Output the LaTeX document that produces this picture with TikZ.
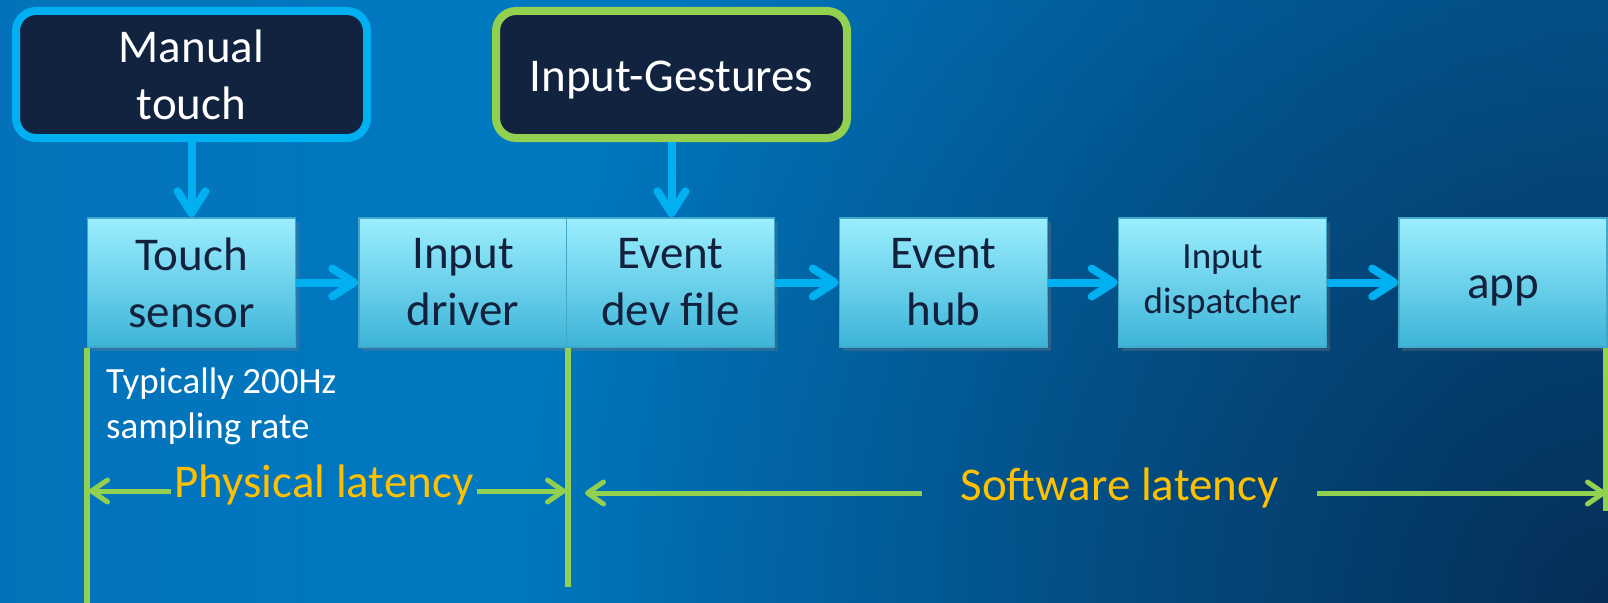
\documentclass[tikz,border=0pt]{standalone}
\usepackage{fontspec}
\setmainfont{Carlito}
\usepackage{xcolor}
\usetikzlibrary{arrows.meta,shadows,fadings}

\definecolor{bgleft}{HTML}{0A67AD}
\definecolor{bgmid}{HTML}{0079C1}
\definecolor{bgright}{HTML}{0460A2}
\definecolor{bgcorner}{HTML}{06284D}
\definecolor{skyarrow}{HTML}{00B0F0}
\definecolor{limeline}{HTML}{92D050}
\definecolor{navybox}{HTML}{12233F}
\definecolor{navytext}{HTML}{14213D}
\definecolor{latencyorange}{HTML}{FFC000}
\definecolor{blocktop}{HTML}{9BEEFE}
\definecolor{blockbottom}{HTML}{3DB4D8}
\definecolor{blockedge}{HTML}{42A8C8}

\pgfdeclarehorizontalshading{slidebg}{100bp}{color(0bp)=(bgleft); color(40bp)=(bgmid); color(100bp)=(bgright)}
\tikzfading[name=corner glow, inner color=transparent!0, outer color=transparent!100]

\newcommand{\bigtext}{\fontsize{47}{57}\selectfont}
\newcommand{\smalltext}{\fontsize{37}{45}\selectfont}

\begin{document}
\begin{tikzpicture}[x=1pt,y=-1pt,
  touchbox/.style={line width=8pt, fill=navybox, text=white, rounded corners=20pt,
    minimum width=351pt, minimum height=127pt, inner sep=0pt, align=center, font=\bigtext},
  block/.style={draw=blockedge, line width=1.5pt, top color=blocktop, bottom color=blockbottom,
    text=navytext, minimum width=208pt, minimum height=129pt, inner sep=0pt, align=center,
    font=\bigtext, drop shadow={shadow xshift=3pt, shadow yshift=-4pt, opacity=0.3}},
  flow/.style={draw=skyarrow, line width=8pt, -{Straight Barb[length=22pt,width=28pt,round]}},
  marker/.style={draw=limeline, line width=5.5pt},
  dimarrow/.style={draw=limeline, line width=5pt, -{Straight Barb[length=16pt,width=22pt,round]}},
  latency/.style={text=latencyorange, font=\bigtext, anchor=base}]

% background
\useasboundingbox (0,0) rectangle (1608,602);
\shade[shading=slidebg] (0,0) rectangle (1608,602);
\begin{scope}
\clip (0,0) rectangle (1608,602);
\fill[bgcorner, path fading=corner glow, fill opacity=0.9] (1608,602) circle (1100);
\end{scope}

% inputs
\node[touchbox, draw=skyarrow] (manual) at (191.5,74.5) {Manual\\touch};
\node[touchbox, draw=limeline, text height=33pt, text depth=0pt] (gestures) at (671.5,74.5) {Input-Gestures};

% pipeline
\node[block] (sensor) at (191.5,282.5) {Touch\\sensor};
\node[block] (driver) at (463,282.5) {Input\\driver};
\node[block] (devfile) at (670.5,282.5) {Event\\dev file};
\node[block] (hub) at (943.5,282.5) {Event\\hub};
\node[block, font=\smalltext] (dispatcher) at (1222.5,282.5) {Input\\dispatcher};
\node[block, text height=31pt, text depth=0pt] (app) at (1503,282.5) {app};

\draw[flow] (manual) -- (sensor);
\draw[flow] (gestures.south) -- (gestures.south |- devfile.north);
\draw[flow] (sensor) -- (driver);
\draw[flow] (devfile) -- (hub);
\draw[flow] (hub) -- (dispatcher);
\draw[flow] (dispatcher) -- (app);

% latency markers
\draw[marker] (sensor.south west) -- ++(0,255);
\draw[marker] (driver.south east) -- ++(0,239);
\draw[marker] ([xshift=-2pt]app.south east) -- ++(0,163);

\node[text=white, font=\smalltext, align=left, anchor=west, inner sep=0pt] (rate) at (106,406) {Typically 200Hz\\sampling rate};

\node[latency, inner xsep=3pt] (physical) at (324,497) {Physical latency};
\coordinate (physL) at (89,491);
\coordinate (physR) at (566,491);
\draw[dimarrow] (physical.west |- physL) -- (physL);
\draw[dimarrow] (physical.east |- physR) -- (physR);

\node[latency, inner xsep=38pt] (software) at (1119.5,500) {Software latency};
\coordinate (softL) at (585,493);
\coordinate (softR) at (1606,493);
\draw[dimarrow] (software.west |- softL) -- (softL);
\draw[dimarrow] (software.east |- softR) -- (softR);
\end{tikzpicture}
\end{document}
